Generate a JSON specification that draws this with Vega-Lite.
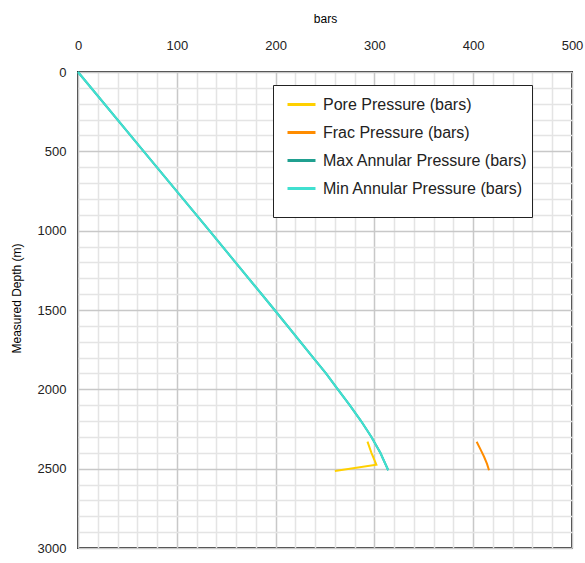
{
  "$schema": "https://vega.github.io/schema/vega-lite/v6.json",
  "width": 494,
  "height": 476,
  "autosize": {"type": "none"},
  "padding": {"left": 78, "top": 72, "right": 13, "bottom": 15},
  "background": "white",
  "config": {
    "font": "Liberation Sans",
    "view": {"stroke": "#333333", "strokeWidth": 2},
    "axis": {"labelFont": "Liberation Sans", "titleFont": "Liberation Sans", "labelColor": "#222222", "titleColor": "#000000", "titleFontWeight": "normal"}
  },
  "data": {
    "values": [
      {"series": "Max Annular Pressure (bars)", "depth": 0, "pressure": 0},
      {"series": "Max Annular Pressure (bars)", "depth": 500, "pressure": 66.5},
      {"series": "Max Annular Pressure (bars)", "depth": 1000, "pressure": 133},
      {"series": "Max Annular Pressure (bars)", "depth": 1500, "pressure": 199},
      {"series": "Max Annular Pressure (bars)", "depth": 1800, "pressure": 238},
      {"series": "Max Annular Pressure (bars)", "depth": 1900, "pressure": 251},
      {"series": "Max Annular Pressure (bars)", "depth": 2000, "pressure": 263},
      {"series": "Max Annular Pressure (bars)", "depth": 2100, "pressure": 275},
      {"series": "Max Annular Pressure (bars)", "depth": 2200, "pressure": 286.5},
      {"series": "Max Annular Pressure (bars)", "depth": 2300, "pressure": 297},
      {"series": "Max Annular Pressure (bars)", "depth": 2400, "pressure": 306},
      {"series": "Max Annular Pressure (bars)", "depth": 2510, "pressure": 314},
      {"series": "Min Annular Pressure (bars)", "depth": 0, "pressure": 0},
      {"series": "Min Annular Pressure (bars)", "depth": 500, "pressure": 66.5},
      {"series": "Min Annular Pressure (bars)", "depth": 1000, "pressure": 133},
      {"series": "Min Annular Pressure (bars)", "depth": 1500, "pressure": 199},
      {"series": "Min Annular Pressure (bars)", "depth": 1800, "pressure": 238},
      {"series": "Min Annular Pressure (bars)", "depth": 1900, "pressure": 251},
      {"series": "Min Annular Pressure (bars)", "depth": 2000, "pressure": 263},
      {"series": "Min Annular Pressure (bars)", "depth": 2100, "pressure": 275},
      {"series": "Min Annular Pressure (bars)", "depth": 2200, "pressure": 286.5},
      {"series": "Min Annular Pressure (bars)", "depth": 2300, "pressure": 297},
      {"series": "Min Annular Pressure (bars)", "depth": 2400, "pressure": 306},
      {"series": "Min Annular Pressure (bars)", "depth": 2510, "pressure": 314},
      {"series": "Pore Pressure (bars)", "depth": 2330, "pressure": 293},
      {"series": "Pore Pressure (bars)", "depth": 2400, "pressure": 297},
      {"series": "Pore Pressure (bars)", "depth": 2475, "pressure": 302},
      {"series": "Pore Pressure (bars)", "depth": 2515, "pressure": 260},
      {"series": "Frac Pressure (bars)", "depth": 2330, "pressure": 403.5},
      {"series": "Frac Pressure (bars)", "depth": 2380, "pressure": 407.5},
      {"series": "Frac Pressure (bars)", "depth": 2425, "pressure": 411},
      {"series": "Frac Pressure (bars)", "depth": 2470, "pressure": 414},
      {"series": "Frac Pressure (bars)", "depth": 2510, "pressure": 416}
    ]
  },
  "encoding": {
    "x": {
      "field": "pressure", "type": "quantitative",
      "scale": {"domain": [0, 500], "nice": false, "zero": false},
      "axis": {
        "orient": "top", "title": "bars", "titleFontSize": 12, "titlePadding": 14,
        "values": [0,20,40,60,80,100,120,140,160,180,200,220,240,260,280,300,320,340,360,380,400,420,440,460,480,500],
        "labelExpr": "datum.value % 100 === 0 ? datum.label : ''",
        "labelFontSize": 13, "labelPadding": 20, "labelFlush": false, "ticks": false, "tickSize": 0, "domain": false,
        "grid": true, "gridWidth": 1.5,
        "gridColor": {"condition": {"test": "datum.value % 100 === 0", "value": "#c8c8c8"}, "value": "#e4e4e4"}
      }
    },
    "y": {
      "field": "depth", "type": "quantitative",
      "scale": {"domain": [0, 3000], "reverse": true, "nice": false, "zero": false},
      "axis": {
        "title": "Measured Depth (m)", "titleFontSize": 12, "titlePadding": 14, "titleY": 226,
        "values": [0,100,200,300,400,500,600,700,800,900,1000,1100,1200,1300,1400,1500,1600,1700,1800,1900,2000,2100,2200,2300,2400,2500,2600,2700,2800,2900,3000],
        "format": "d",
        "labelExpr": "datum.value % 500 === 0 ? datum.label : ''",
        "labelFontSize": 13, "labelPadding": 12, "labelFlush": false, "ticks": false, "tickSize": 0, "domain": false,
        "grid": true, "gridWidth": 1.5,
        "gridColor": {"condition": {"test": "datum.value % 500 === 0", "value": "#c8c8c8"}, "value": "#e4e4e4"}
      }
    },
    "color": {
      "field": "series", "type": "nominal",
      "scale": {
        "domain": ["Pore Pressure (bars)", "Frac Pressure (bars)", "Max Annular Pressure (bars)", "Min Annular Pressure (bars)"],
        "range": ["#FFD000", "#FF8C00", "#20A090", "#40E0D0"]
      },
      "legend": {
        "title": "\u00a0\u00a0\u00a0\u00a0\u00a0\u00a0\u00a0\u00a0\u00a0\u00a0",
        "titleOrient": "bottom", "titleFontSize": 10, "titlePadding": 6, "titleLimit": 500,
        "orient": "none", "legendX": 195, "legendY": 13,
        "strokeColor": "#222222", "fillColor": "white", "padding": 4,
        "symbolType": "stroke", "symbolStrokeWidth": 3, "symbolSize": 784, "symbolOffset": 9,
        "labelFontSize": 16, "labelColor": "#222222", "labelOffset": 6, "rowPadding": 4, "labelLimit": 400
      }
    },
    "order": {"field": "depth", "type": "quantitative"}
  },
  "layer": [
    {"transform": [{"filter": "datum.series === 'Max Annular Pressure (bars)'"}], "mark": {"type": "line", "strokeWidth": 2}},
    {"transform": [{"filter": "datum.series !== 'Max Annular Pressure (bars)'"}], "mark": {"type": "line", "strokeWidth": 2}}
  ]
}
